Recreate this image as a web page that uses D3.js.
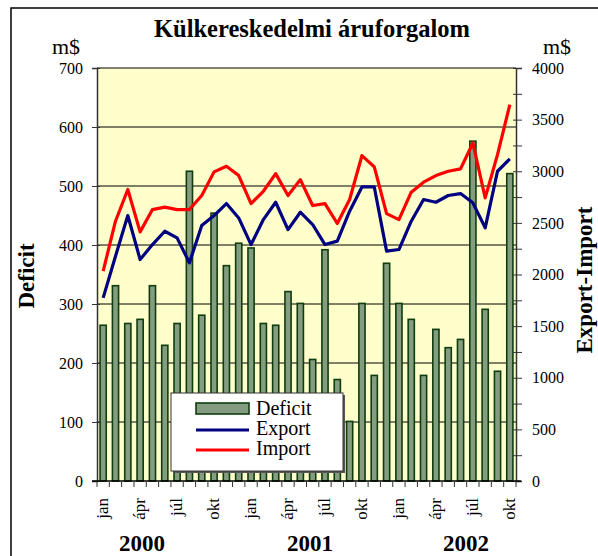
<!DOCTYPE html>
<html>
<head>
<meta charset="utf-8">
<script src="https://cdn.jsdelivr.net/npm/d3@7"></script>
<style>
  body { margin: 0; background: #fff; }
  svg text { font-family: "Liberation Serif", "Times New Roman", serif; }
</style>
</head>
<body>
<script>
// months jan 2000 .. okt 2002
var months = ["jan","feb","már","ápr","máj","jún","júl","aug","szep","okt","nov","dec"];
var years = ["2000", "2001", "2002"];
var deficit = [264, 331, 267, 274, 331, 230, 267, 525, 281, 454, 365, 403, 395, 267, 264, 321, 301,
               206, 392, 172, 101, 301, 179, 369, 301, 274, 179, 257, 226, 240, 576, 291, 186, 521];
var exportV = [1774, 2177, 2571, 2145, 2290, 2419, 2355, 2113, 2474, 2571, 2687, 2548, 2290, 2532, 2700, 2435, 2603,
               2484, 2290, 2323, 2613, 2848, 2848, 2226, 2242, 2516, 2726, 2700, 2765, 2784, 2694, 2452, 3000, 3119];
var importV = [2032, 2516, 2823, 2413, 2629, 2652, 2629, 2629, 2765, 2994, 3048, 2958, 2687, 2806, 2977, 2765, 2919,
               2668, 2687, 2494, 2726, 3152, 3042, 2590, 2532, 2797, 2894, 2958, 3000, 3023, 3274, 2742, 3161, 3645];
var leftTicks = [0, 100, 200, 300, 400, 500, 600, 700];
var rightTicks = [0, 500, 1000, 1500, 2000, 2500, 3000, 3500, 4000];

var width = 598, height = 556;
var x0 = 97, x1 = 516, yTop = 68, yBot = 481;

var svg = d3.select("body").append("svg")
    .attr("width", width)
    .attr("height", height);

// outer frame
svg.append("rect")
    .attr("x", 11).attr("y", 8)
    .attr("width", 600).attr("height", 600)
    .attr("fill", "none").attr("stroke", "#000").attr("stroke-width", 1.5);

var idx = d3.range(deficit.length);
var x = d3.scaleBand().domain(idx).range([x0, x1]).paddingInner(0.5).paddingOuter(0.25);
var yL = d3.scaleLinear().domain([0, 700]).range([yBot, yTop]);
var yR = d3.scaleLinear().domain([0, 4000]).range([yBot, yTop]);
var step = x.step();
var xc = function(i) { return x(i) + x.bandwidth() / 2; };

// plot background
svg.append("rect")
    .attr("x", x0).attr("y", yTop)
    .attr("width", x1 - x0).attr("height", yBot - yTop)
    .attr("fill", "#ffffcc");

// gridlines
svg.append("g").selectAll("line")
    .data(leftTicks.slice(1))
    .enter().append("line")
    .attr("x1", x0).attr("x2", x1)
    .attr("y1", function(d) { return yL(d); })
    .attr("y2", function(d) { return yL(d); })
    .attr("stroke", "#000").attr("stroke-width", 1);

// bars
svg.append("g").selectAll("rect")
    .data(deficit)
    .enter().append("rect")
    .attr("x", function(d, i) { return x(i); })
    .attr("y", function(d) { return yL(d); })
    .attr("width", x.bandwidth())
    .attr("height", function(d) { return yBot - yL(d); })
    .attr("fill", "#849c7f")
    .attr("stroke", "#0f3d0f")
    .attr("stroke-width", 1.6);

// lines
var line = d3.line().x(function(d, i) { return xc(i); }).y(function(d) { return yR(d); });
svg.append("path").datum(exportV)
    .attr("d", line).attr("fill", "none")
    .attr("stroke", "#000080").attr("stroke-width", 3.2).attr("stroke-linejoin", "round");
svg.append("path").datum(importV)
    .attr("d", line).attr("fill", "none")
    .attr("stroke", "#ff0000").attr("stroke-width", 3.2).attr("stroke-linejoin", "round");

// left axis
var leftAxis = svg.append("g").attr("transform", "translate(" + x0 + ",0)")
    .call(d3.axisLeft(yL).tickValues(leftTicks).tickSize(5).tickPadding(9));
leftAxis.select(".domain").attr("stroke", "#333").attr("stroke-width", 1.5);
leftAxis.selectAll(".tick line").attr("x2", -5).attr("x1", 3).attr("stroke", "#333");
leftAxis.selectAll("text").attr("font-size", 16).attr("fill", "#000");

// right axis
var rightAxis = svg.append("g").attr("transform", "translate(" + x1 + ",0)")
    .call(d3.axisRight(yR).tickValues(d3.range(0, 4001, 250)).tickSize(6).tickPadding(10)
      .tickFormat(function(d) { return rightTicks.indexOf(d) >= 0 ? d : ""; }));
rightAxis.select(".domain").attr("stroke", "#333").attr("stroke-width", 1.5);
rightAxis.selectAll(".tick line").attr("x1", -3).attr("stroke", "#333");
rightAxis.selectAll("text").attr("font-size", 16).attr("fill", "#000");

// bottom axis
svg.append("line")
    .attr("x1", x0 - 5).attr("x2", x1 + 5).attr("y1", yBot).attr("y2", yBot)
    .attr("stroke", "#000").attr("stroke-width", 1.5);
svg.append("g").selectAll("line")
    .data(d3.range(deficit.length + 1))
    .enter().append("line")
    .attr("x1", function(d) { return x0 + d * step; })
    .attr("x2", function(d) { return x0 + d * step; })
    .attr("y1", yBot).attr("y2", yBot + 6)
    .attr("stroke", "#333").attr("stroke-width", 1);

// month labels
svg.append("g").selectAll("text")
    .data(idx.filter(function(i) { return i % 3 === 0; }))
    .enter().append("text")
    .attr("transform", function(i) { return "translate(" + (xc(i) + 5) + "," + (yBot + 17) + ") rotate(-90)"; })
    .attr("text-anchor", "end")
    .attr("font-size", 17)
    .text(function(i) { return months[i % 12]; });

// year labels
svg.append("g").selectAll("text")
    .data(years)
    .enter().append("text")
    .attr("x", function(d, k) { return [142, 310, 466][k]; })
    .attr("y", 551)
    .attr("text-anchor", "middle")
    .attr("font-size", 23).attr("font-weight", "bold")
    .text(function(d) { return d; });

// title and axis titles
svg.append("text").attr("x", 312).attr("y", 37).attr("text-anchor", "middle")
    .attr("font-size", 24.5).attr("font-weight", "bold").text("Külkereskedelmi áruforgalom");
svg.append("text").attr("x", 66).attr("y", 54).attr("text-anchor", "middle")
    .attr("font-size", 22).text("m$");
svg.append("text").attr("x", 557).attr("y", 54).attr("text-anchor", "middle")
    .attr("font-size", 22).text("m$");
svg.append("text").attr("transform", "translate(34,276) rotate(-90)")
    .attr("text-anchor", "middle").attr("font-size", 23).attr("font-weight", "bold").text("Deficit");
svg.append("text").attr("transform", "translate(592,280) rotate(-90)")
    .attr("text-anchor", "middle").attr("font-size", 23).attr("font-weight", "bold").text("Export-Import");

// legend
var lg = svg.append("g").attr("transform", "translate(171,393)");
lg.append("rect").attr("x", 2).attr("y", 2).attr("width", 172).attr("height", 78).attr("fill", "#555");
lg.append("rect").attr("width", 172).attr("height", 78)
    .attr("fill", "#fff").attr("stroke", "#333").attr("stroke-width", 1);
lg.append("rect").attr("x", 25).attr("y", 10).attr("width", 53).attr("height", 11)
    .attr("fill", "#849c7f").attr("stroke", "#0f3d0f").attr("stroke-width", 1.6);
lg.append("line").attr("x1", 25).attr("x2", 78).attr("y1", 37).attr("y2", 37)
    .attr("stroke", "#000080").attr("stroke-width", 3.2);
lg.append("line").attr("x1", 25).attr("x2", 78).attr("y1", 57).attr("y2", 57)
    .attr("stroke", "#ff0000").attr("stroke-width", 3.2);
var legendNames = ["Deficit", "Export", "Import"];
lg.selectAll("text.lt").data(legendNames).enter().append("text")
    .attr("class", "lt")
    .attr("x", 85).attr("y", function(d, k) { return 22 + k * 20; })
    .attr("font-size", 20)
    .text(function(d) { return d; });
</script>
</body>
</html>
